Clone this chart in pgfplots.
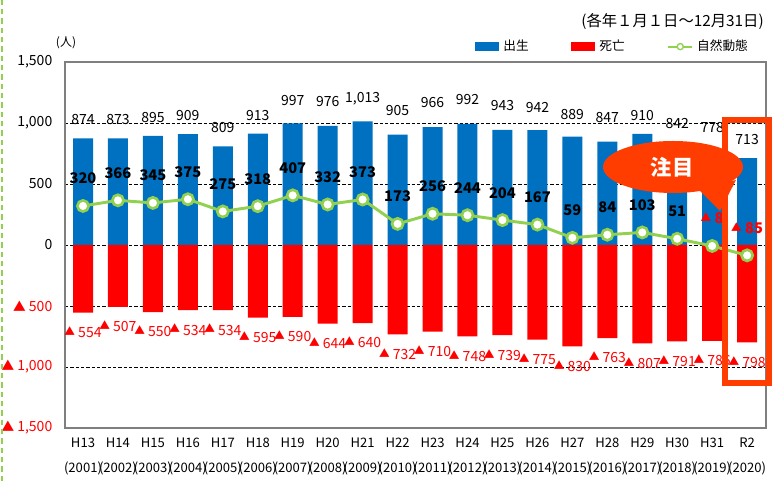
\documentclass[border=0pt]{standalone}
\usepackage{pgfplots}
\pgfplotsset{compat=1.18}
\usepackage{fontspec}
\setmainfont{Noto Sans CJK JP}
\definecolor{birth}{HTML}{0070C0}
\definecolor{death}{HTML}{FF0000}
\definecolor{nat}{HTML}{92D050}
\definecolor{hl}{HTML}{FF3D00}
\definecolor{frame}{HTML}{7F7F7F}
\newcommand{\tri}{\raisebox{1.5pt}{\fontsize{8}{8}\selectfont ▲}}
\newcommand{\ytri}{{\fontsize{9.5}{9.5}\selectfont ▲}}
\newcommand{\up}[1]{\raisebox{4.5pt}{#1}}
\newcommand{\upp}[1]{\raisebox{3pt}{#1}}
\pgfplotsset{/pgf/number format/assume math mode=true}
\begin{document}
\begin{tikzpicture}
\path[use as bounding box] (0pt,0pt) rectangle (580.5pt,360.75pt);
\begin{axis}[
  at={(48.75pt,39.75pt)}, anchor=south west,
  width=525.75pt, height=274.5pt, scale only axis,
  xmin=-0.515, xmax=19.54, ymin=-1500, ymax=1500,
  axis line style={draw=frame, line width=0.8pt},
  major tick length=0pt,
  xtick={0,...,19},
  xticklabels={H13\\(2001),H14\\(2002),H15\\(2003),H16\\(2004),H17\\(2005),H18\\(2006),H19\\(2007),H20\\(2008),H21\\(2009),H22\\(2010),H23\\(2011),H24\\(2012),H25\\(2013),H26\\(2014),H27\\(2015),H28\\(2016),H29\\(2017),H30\\(2018),H31\\(2019),R2\\(2020)},
  xticklabel style={align=center, font=\fontsize{9.8}{18.5}\selectfont, yshift=-4pt},
  ytick={-1500,-1000,-500,0,500,1000,1500},
  yticklabels={{\color{death}\ytri\ 1,500},{\color{death}\ytri\ 1,000},{\color{death}\ytri\ 500},0,500,{1,000},{1,500}},
  yticklabel style={font=\fontsize{10.5}{12}\selectfont, xshift=-6pt},
  ymajorgrids, grid style={black, dash pattern=on 2.5pt off 1.5pt, line width=0.5pt},
  legend style={at={(0.585,1.042)}, anchor=west, draw=none, fill=none, legend columns=3,
    font=\fontsize{9.5}{11}\selectfont, inner xsep=0pt,
    /tikz/every odd column/.append style={column sep=1pt},
    /tikz/every even column/.append style={column sep=30pt}},
]
\addplot[ybar, bar width=15pt, bar shift=0pt, fill=birth, draw=none,
  legend image code/.code={\fill[birth] (0pt,-3.5pt) rectangle (18pt,3.5pt);},
  point meta=explicit symbolic,
  nodes near coords, nodes near coords style={font=\fontsize{10.5}{12}\selectfont, black, yshift=6.5pt}]
coordinates {(0,874) [874] (1,873) [873] (2,895) [895] (3,909) [909] (4,809) [809]
 (5,913) [913] (6,997) [\upp{997}] (7,976) [\up{976}] (8,1013) [\up{1,013}] (9,905) [\up{905}]
 (10,966) [\up{966}] (11,992) [\up{992}] (12,943) [\up{943}] (13,942) [\upp{942}] (14,889) [\upp{889}]
 (15,847) [\up{847}] (16,910) [910] (17,842) [842] (18,778) [\upp{778}] (19,713) [713]};
\addlegendentry{出生}
\addplot[ybar, bar width=15pt, bar shift=0pt, fill=death, draw=none,
  legend image code/.code={\fill[death] (0pt,-3.5pt) rectangle (18pt,3.5pt);},
  point meta=explicit symbolic,
  nodes near coords, nodes near coords style={font=\fontsize{10.5}{12}\selectfont, text=death, anchor=north, yshift=-7pt}]
coordinates {(0,-554) [\tri\ 554] (1,-507) [\tri\ 507] (2,-550) [\tri\ 550] (3,-534) [\tri\ 534]
 (4,-534) [\tri\ 534] (5,-595) [\tri\ 595] (6,-590) [\tri\ 590] (7,-644) [\tri\ 644]
 (8,-640) [\tri\ 640] (9,-732) [\tri\ 732] (10,-710) [\tri\ 710] (11,-748) [\tri\ 748]
 (12,-739) [\tri\ 739] (13,-775) [\tri\ 775] (14,-830) [\tri\ 830] (15,-763) [\tri\ 763]
 (16,-807) [\tri\ 807] (17,-791) [\tri\ 791] (18,-786) [\tri\ 786] (19,-798) [\tri\ 798]};
\addlegendentry{死亡}
\addplot[nat, line width=2.2pt, mark=*, mark size=4.2pt,
  mark options={fill=white, draw=nat, line width=2pt},
  legend image code/.code={\draw[nat, line width=1.4pt] (0pt,0pt) -- (18pt,0pt); \draw[nat, line width=1pt, fill=white] (9pt,0pt) circle (2.3pt);},
  point meta=explicit symbolic,
  nodes near coords, nodes near coords style={font=\bfseries\fontsize{11}{12}\selectfont, black, yshift=12pt}]
coordinates {(0,320) [320] (1,366) [366] (2,345) [345] (3,375) [375] (4,275) [275]
 (5,318) [318] (6,407) [407] (7,332) [332] (8,373) [373] (9,173) [173]
 (10,256) [256] (11,244) [244] (12,204) [204] (13,167) [167] (14,59) [59]
 (15,84) [84] (16,103) [103] (17,51) [51] (18,-8) [\textcolor{death}{\tri\ 8}] (19,-85) [\textcolor{death}{\tri\ 85}]};
\addlegendentry{自然動態}
\end{axis}
\begin{scope}[x=0.75pt,y=0.75pt]
\draw[nat, line width=1.3pt, dash pattern=on 4pt off 3pt] (2,0) -- (2,481);
\node[anchor=east, font=\fontsize{11.5}{13}\selectfont, inner sep=0pt] at (764,459) {(各年１月１日～12月31日)};
\node[font=\fontsize{9}{11}\selectfont, inner sep=0pt] at (66,438) {(人)};
\fill[hl] (673,314) ellipse [x radius=70, y radius=26];
\fill[hl] (698,292) -- (736,301) -- (720,270) -- cycle;
\node[text=white, font=\bfseries\fontsize{16}{18}\selectfont] at (672,314) {注目};
\draw[hl, line width=3.8pt] (725,361) rectangle (769,98);
\end{scope}
\end{tikzpicture}
\end{document}
